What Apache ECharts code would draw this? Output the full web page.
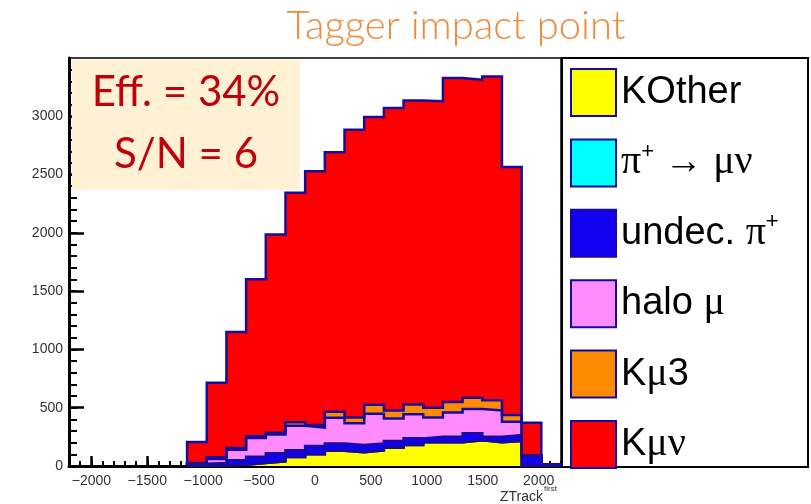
<!DOCTYPE html>
<html>
<head>
<meta charset="utf-8">
<script src="https://cdn.jsdelivr.net/npm/echarts@6/dist/echarts.min.js"></script>
<style>
  html, body { margin: 0; padding: 0; background: #ffffff; }
  #chart { width: 811px; height: 504px; }
</style>
</head>
<body>
<div id="chart"></div>
<script>
// ZTrack histogram binning (25 bins over [-2200, 2200]; only the populated range is listed)
const binEdges = [-1144, -968, -792, -616, -440, -264, -88, 88, 264, 440, 616, 792, 968, 1144, 1320, 1496, 1672, 1848, 2024, 2200];

// Entries per bin for each stacked component (bottom of the stack first)
const kOther  = [0, 5, 10, 25, 40, 78, 100, 131, 117, 134, 157, 180, 203, 203, 220, 203, 214, 0, 0];
const piMuNu  = [0, 0, 0, 0, 0, 0, 0, 0, 0, 0, 0, 0, 0, 0, 0, 0, 0, 0, 0];
const undecPi = [20, 20, 40, 55, 70, 57, 72, 63, 63, 60, 57, 57, 48, 48, 60, 48, 52, 85, 15];
const haloMu  = [2, 35, 90, 160, 160, 210, 158, 220, 186, 254, 194, 206, 166, 209, 209, 226, 114, 3, 0];
const kMu3    = [3, 15, 15, 15, 15, 30, 22, 52, 51, 77, 69, 85, 83, 90, 97, 86, 57, 2, 0];
const kMuNu   = [180, 640, 995, 1346, 1701, 1968, 2177, 2226, 2468, 2469, 2594, 2608, 2630, 2778, 2727, 2779, 2128, 280, 0];

// Axis tick labels
const xTickValues = [-2000, -1500, -1000, -500, 0, 500, 1000, 1500, 2000];
const yTickValues = [0, 500, 1000, 1500, 2000, 2500, 3000];

const components = [
  { name: 'KOther',    values: kOther,  color: '#ffff00' },
  { name: 'π+ → μν',   values: piMuNu,  color: '#00ffff' },
  { name: 'undec. π+', values: undecPi, color: '#1400f0' },
  { name: 'halo μ',    values: haloMu,  color: '#ff8cff' },
  { name: 'Kμ3',       values: kMu3,    color: '#ff8c00' },
  { name: 'Kμν',       values: kMuNu,   color: '#ff0000' }
];

const OUTLINE = '#160c9c';

// Minor tick positions (every 100 along both axes)
const xMinor = [];
for (let v = -2200; v <= 2200; v += 100) xMinor.push(v);
const yMinor = [];
for (let v = 0; v <= 3400; v += 100) yMinor.push(v);

// Running sums: each component is drawn as its cumulative histogram, filled down to zero,
// with the upper ones painted first so the lower ones sit on top.
const cumulative = [];
let running = binEdges.slice(1).map(() => 0);
components.forEach(c => {
  running = running.map((s, i) => s + c.values[i]);
  cumulative.push(running.slice());
});

// Histogram outline: a step polyline over the bin edges, closed to zero at both ends
function stepOutline(counts) {
  const pts = [[binEdges[0], 0]];
  counts.forEach((v, i) => {
    pts.push([binEdges[i], v]);
    pts.push([binEdges[i + 1], v]);
  });
  pts.push([binEdges[binEdges.length - 1], 0]);
  return pts;
}

const series = [];
for (let k = components.length - 1; k >= 0; k--) {
  const c = components[k];
  series.push({
    name: c.name,
    type: 'line',
    xAxisIndex: 0,
    yAxisIndex: 0,
    data: stepOutline(cumulative[k]),
    symbol: 'none',
    silent: true,
    lineStyle: { color: OUTLINE, width: 2.5, join: 'miter' },
    itemStyle: { color: c.color },
    areaStyle: { color: c.color, opacity: 1 },
    z: 2
  });
}

function legendMarkup(name) {
  switch (name) {
    case 'π+ → μν':   return '{g|π}{s|+}{t| }{a|→}{t| }{g|μν}';
    case 'undec. π+': return '{t|undec. }{g|π}{s|+}';
    case 'halo μ':    return '{t|halo }{g|μ}';
    case 'Kμ3':       return '{t|K}{g|μ}{t|3}';
    case 'Kμν':       return '{t|K}{g|μν}';
    default:          return '{t|' + name + '}';
  }
}

const plainLabel = v => String(v).replace('-', '\u2212');

const chart = echarts.init(document.getElementById('chart'), null, { renderer: 'canvas' });
chart.setOption({
  animation: false,
  backgroundColor: '#ffffff',
  title: {
    text: 'Tagger impact point',
    left: 451,
    top: 1,
    textAlign: 'center',
    textStyle: { color: '#ef8b3e', fontFamily: 'Lato', fontWeight: 300, fontSize: 40 }
  },
  grid: {
    left: 69, right: 250, top: 58, bottom: 38,
    show: true, borderColor: '#000000', borderWidth: 1.5, backgroundColor: 'transparent'
  },
  xAxis: [
    {
      type: 'value', min: -2200, max: 2200,
      axisLine: { show: true, onZero: false, lineStyle: { color: '#000', width: 3 } },
      axisTick: { show: true, inside: true, length: 10, customValues: xTickValues, lineStyle: { color: '#000', width: 2.5 } },
      axisLabel: {
        customValues: xTickValues, formatter: plainLabel, margin: 8,
        fontFamily: 'Liberation Sans', fontSize: 14, color: '#333'
      },
      splitLine: { show: false }
    },
    {
      type: 'value', min: -2200, max: 2200, position: 'bottom',
      axisLine: { show: false, onZero: false },
      axisTick: { show: true, inside: true, length: 5, customValues: xMinor, lineStyle: { color: '#000', width: 2 } },
      axisLabel: { show: false },
      splitLine: { show: false }
    }
  ],
  yAxis: [
    {
      type: 'value', min: 0, max: 3500,
      axisLine: { show: true, onZero: false, lineStyle: { color: '#000', width: 3 } },
      axisTick: { show: true, inside: true, length: 15, customValues: yTickValues, lineStyle: { color: '#000', width: 2.5 } },
      axisLabel: {
        customValues: yTickValues, formatter: plainLabel, margin: 6,
        fontFamily: 'Liberation Sans', fontSize: 14, color: '#333'
      },
      splitLine: { show: false }
    },
    {
      type: 'value', min: 0, max: 3500, position: 'left',
      axisLine: { show: false, onZero: false },
      axisTick: { show: true, inside: true, length: 8, customValues: yMinor, lineStyle: { color: '#000', width: 2 } },
      axisLabel: { show: false },
      splitLine: { show: false }
    }
  ],
  legend: {
    orient: 'vertical',
    left: 570,
    top: 68,
    padding: 0,
    itemWidth: 45,
    itemHeight: 47,
    itemGap: 21.4,
    icon: 'rect',
    selectedMode: false,
    itemStyle: { borderColor: OUTLINE, borderWidth: 2 },
    data: components.map(c => ({
      name: c.name,
      itemStyle: { color: c.color, borderColor: OUTLINE, borderWidth: 2 }
    })),
    formatter: legendMarkup,
    textStyle: {
      color: '#000',
      fontSize: 38,
      fontFamily: 'Liberation Sans',
      rich: {
        t: { fontFamily: 'Liberation Sans', fontSize: 38, lineHeight: 44, color: '#000' },
        g: { fontFamily: 'Liberation Serif', fontSize: 40, lineHeight: 44, color: '#000' },
        a: { fontFamily: 'Liberation Serif', fontSize: 38, lineHeight: 44, color: '#000' },
        s: { fontFamily: 'Liberation Sans', fontSize: 22, lineHeight: 22, verticalAlign: 'top', color: '#000' }
      }
    },
    z: 10
  },
  graphic: [
    {
      // legend frame
      type: 'rect', z: 1, silent: true,
      shape: { x: 562, y: 58, width: 246, height: 409 },
      style: { fill: '#ffffff', stroke: '#000000', lineWidth: 2 }
    },
    {
      // efficiency / signal-to-noise box
      type: 'rect', z: 100, silent: true,
      shape: { x: 72, y: 60, width: 228, height: 130 },
      style: { fill: '#fef1d4' }
    },
    {
      type: 'text', z: 101, silent: true, x: 186, y: 92,
      style: { text: 'Eff. = 34%', fill: '#c0000a', font: '42px Lato', align: 'center', verticalAlign: 'middle' }
    },
    {
      type: 'text', z: 101, silent: true, x: 186, y: 154,
      style: { text: 'S/N = 6', fill: '#c0000a', font: '42px Lato', align: 'center', verticalAlign: 'middle' }
    },
    {
      // x-axis title
      type: 'text', z: 101, silent: true, x: 543, y: 497,
      style: { text: 'ZTrack', fill: '#333', font: '14px "Liberation Sans"', align: 'right', verticalAlign: 'middle' }
    },
    {
      type: 'text', z: 101, silent: true, x: 544, y: 489,
      style: { text: 'first', fill: '#333', font: '8px "Liberation Sans"', align: 'left', verticalAlign: 'middle' }
    }
  ],
  series: series
});
</script>
</body>
</html>
